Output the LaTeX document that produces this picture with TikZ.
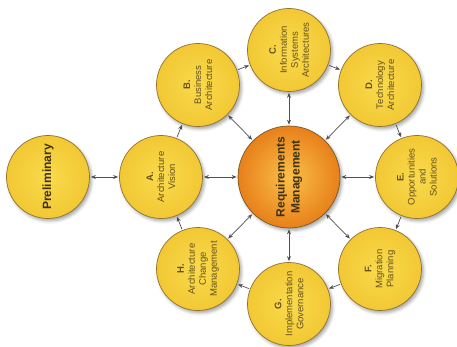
\documentclass[tikz,border=0pt]{standalone}
\usepackage{fontspec}
\setmainfont{Liberation Sans}
\usetikzlibrary{arrows.meta,shadows.blur}
\definecolor{ytxt}{HTML}{66511C}
\definecolor{yin}{HTML}{F9DA4C}
\definecolor{yout}{HTML}{F2C834}
\definecolor{oin}{HTML}{FAC04A}
\definecolor{oout}{HTML}{E8801A}
\definecolor{rim}{HTML}{8F7230}
\definecolor{arr}{HTML}{505050}
\tikzset{
  phase/.style={circle,draw=rim,line width=0.7pt,minimum size=83pt,inner sep=0pt,
    shading=radial,inner color=yin,outer color=yout,
    blur shadow={shadow xshift=2pt,shadow yshift=-2.5pt,shadow blur radius=3pt,shadow opacity=35}},
  req/.style={phase,minimum size=102pt,inner color=oin,outer color=oout,draw=rim!80!black},
  lbl/.style={rotate=90,align=center,text=ytxt,font=\fontsize{9.5}{11}\selectfont},
  biglbl/.style={rotate=90,align=center,text=ytxt!60!black,font=\fontsize{12}{15}\selectfont\bfseries},
  cyc/.style={draw=arr,line width=0.7pt,-{Stealth[length=5pt,width=4pt]},shorten >=1pt,shorten <=1pt},
  dbl/.style={cyc,{Stealth[length=5pt,width=4pt]}-{Stealth[length=5pt,width=4pt]}}
}
\begin{document}
\begin{tikzpicture}[x=1pt,y=-1pt]
\useasboundingbox (0,0) rectangle (457,347);
\node[req] (R) at (289,177) {};
\node[phase] (P) at (48,177) {};
\node[phase] (A) at (161,177) {};
\node[phase] (B) at (198,85) {};
\node[phase] (C) at (289,50) {};
\node[phase] (D) at (380,85) {};
\node[phase] (E) at (417,177) {};
\node[phase] (F) at (380,269) {};
\node[phase] (G) at (289,304) {};
\node[phase] (H) at (198,269) {};
\node[biglbl] (Rt) at (R) {Requirements\\Management};
\node[biglbl] (Pt) at (P) {Preliminary};
\node[lbl] (At) at (A) {\textbf{A.}\\Architecture\\Vision};
\node[lbl] (Bt) at (B) {\textbf{B.}\\Business\\Architecture};
\node[lbl] (Ct) at (C) {\textbf{C.}\\Information\\Systems\\Architectures};
\node[lbl] (Dt) at (D) {\textbf{D.}\\Technology\\Architecture};
\node[lbl] (Et) at (E) {\textbf{E.}\\Opportunities\\and\\Solutions};
\node[lbl] (Ft) at (F) {\textbf{F.}\\Migration\\Planning};
\node[lbl] (Gt) at (G) {\textbf{G.}\\Implementation\\Governance};
\node[lbl] (Ht) at (H) {\textbf{H.}\\Architecture\\Change\\Management};
\draw[dbl] (P) -- (A);
\foreach \n in {A,B,C,D,E,F,G,H} \draw[dbl] (\n) -- (R);
\draw[cyc] (A) -- (B);
\draw[cyc] (B) -- (C);
\draw[cyc] (C) -- (D);
\draw[cyc] (D) -- (E);
\draw[cyc] (E) -- (F);
\draw[cyc] (F) -- (G);
\draw[cyc] (G) -- (H);
\draw[cyc] (H) -- (A);
\end{tikzpicture}
\end{document}
